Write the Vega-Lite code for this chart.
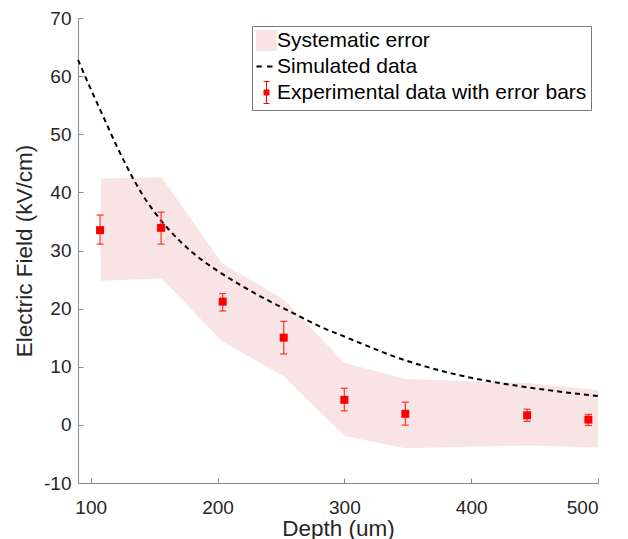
{
  "$schema": "https://vega.github.io/schema/vega-lite/v6.json",
  "width": 520,
  "height": 465,
  "autosize": {"type": "none"},
  "padding": {"left": 78, "top": 18, "right": 30, "bottom": 56},
  "background": "white",
  "config": {
    "view": {"stroke": null},
    "font": "Liberation Sans",
    "axis": {
      "grid": false,
      "domainColor": "#8c8c8c",
      "tickColor": "#8c8c8c",
      "tickSize": -5,
      "labelFontSize": 19,
      "labelColor": "#262626",
      "titleFontSize": 22.5,
      "titleFontWeight": "normal",
      "titleColor": "#262626",
      "labelFont": "Liberation Sans",
      "titleFont": "Liberation Sans",
      "labelExpr": "datum.value"
    }
  },
  "datasets": {
    "band": [
      {"depth": 108, "hi": 42.4, "lo": 24.8},
      {"depth": 156, "hi": 42.6, "lo": 25.2},
      {"depth": 203.5, "hi": 27.8, "lo": 14.4},
      {"depth": 252, "hi": 21.6, "lo": 8.4},
      {"depth": 300, "hi": 10.7, "lo": -1.9},
      {"depth": 348, "hi": 7.9, "lo": -4.0},
      {"depth": 444, "hi": 7.2, "lo": -3.55},
      {"depth": 500, "hi": 6.0, "lo": -3.9}
    ],
    "sim": [
      {"depth": 90, "field": 62.8},
      {"depth": 100, "field": 57.8},
      {"depth": 110, "field": 53.0},
      {"depth": 120, "field": 48.2},
      {"depth": 130, "field": 43.8},
      {"depth": 140, "field": 39.9},
      {"depth": 150, "field": 36.7},
      {"depth": 160, "field": 34.0},
      {"depth": 170, "field": 31.7},
      {"depth": 180, "field": 29.7},
      {"depth": 190, "field": 28.0},
      {"depth": 200, "field": 26.5},
      {"depth": 220, "field": 23.8},
      {"depth": 240, "field": 21.4},
      {"depth": 260, "field": 19.2},
      {"depth": 280, "field": 17.0},
      {"depth": 300, "field": 15.2},
      {"depth": 320, "field": 13.4},
      {"depth": 340, "field": 11.7},
      {"depth": 360, "field": 10.3},
      {"depth": 380, "field": 9.1},
      {"depth": 400, "field": 8.1},
      {"depth": 420, "field": 7.3},
      {"depth": 440, "field": 6.6},
      {"depth": 460, "field": 6.0},
      {"depth": 480, "field": 5.45},
      {"depth": 500, "field": 4.95}
    ],
    "exp": [
      {"depth": 107.4, "field": 33.5, "lo": 31.1, "hi": 36.1},
      {"depth": 155.5, "field": 33.9, "lo": 31.1, "hi": 36.6},
      {"depth": 204.1, "field": 21.2, "lo": 19.6, "hi": 22.6},
      {"depth": 252.2, "field": 15.0, "lo": 12.2, "hi": 17.8},
      {"depth": 300.0, "field": 4.3, "lo": 2.4, "hi": 6.3},
      {"depth": 348.1, "field": 1.9, "lo": -0.05, "hi": 3.9},
      {"depth": 444.1, "field": 1.65, "lo": 0.6, "hi": 2.7},
      {"depth": 492.4, "field": 0.9, "lo": -0.1, "hi": 1.8}
    ]
  },
  "layer": [
    {
      "data": {"name": "band"},
      "mark": {"type": "area", "opacity": 1},
      "encoding": {
        "x": {
          "field": "depth", "type": "quantitative",
          "scale": {"domain": [90, 500], "nice": false, "zero": false},
          "axis": {"values": [100, 200, 300, 400, 500], "title": "Depth (um)", "labelPadding": 20, "titlePadding": 0}
        },
        "y": {
          "field": "hi", "type": "quantitative",
          "scale": {"domain": [-10, 70], "nice": false, "zero": false},
          "axis": {"values": [-10, 0, 10, 20, 30, 40, 50, 60, 70], "title": "Electric Field (kV/cm)", "labelPadding": 12, "titlePadding": 7}
        },
        "y2": {"field": "lo"},
        "color": {
          "datum": "Systematic error",
          "type": "nominal",
          "scale": {
            "domain": ["Systematic error", "Simulated data", "Experimental data with error bars"],
            "range": ["#f9e4e5", "#000000", "#ff0000"]
          },
          "legend": {
            "orient": "none",
            "legendX": 174,
            "legendY": 8,
            "title": null,
            "direction": "vertical",
            "fillColor": "white",
            "strokeColor": "#7a7a7a",
            "padding": 4,
            "rowPadding": 2,
            "labelFontSize": 21,
            "labelFont": "Liberation Sans",
            "labelColor": "black",
            "labelLimit": 500,
            "labelOffset": 0,
            "symbolSize": 400,
            "symbolOpacity": 1,
            "symbolType": {"expr": "datum.value === 'Systematic error' ? 'M-1,-1H1V1H-1Z' : datum.value === 'Simulated data' ? 'M-1,0H-0.47M0.06,0H0.6' : 'M-0.3,-1.1H0.3M0,-1.1V1.1M-0.3,1.1H0.3M-0.25,-0.25H0.25V0.25H-0.25Z'"},
            "symbolStrokeWidth": {"expr": "datum.value === 'Simulated data' ? 2 : 1"},
            "symbolStrokeColor": {"expr": "datum.value === 'Systematic error' ? '#f9e4e5' : datum.value === 'Simulated data' ? '#000000' : '#ff3030'"}
          }
        }
      }
    },
    {
      "data": {"name": "sim"},
      "mark": {"type": "line", "strokeDash": [5, 4], "strokeWidth": 2, "interpolate": "monotone"},
      "encoding": {
        "x": {"field": "depth", "type": "quantitative"},
        "y": {"field": "field", "type": "quantitative"},
        "color": {"datum": "Simulated data", "type": "nominal"}
      }
    },
    {
      "data": {"name": "exp"},
      "mark": {"type": "rule", "color": "#ff3030", "strokeWidth": 1.2},
      "encoding": {
        "x": {"field": "depth", "type": "quantitative"},
        "y": {"field": "lo", "type": "quantitative"},
        "y2": {"field": "hi"}
      }
    },
    {
      "data": {"name": "exp"},
      "mark": {"type": "tick", "orient": "horizontal", "size": 7, "thickness": 1.2, "color": "#ff3030", "opacity": 1},
      "encoding": {
        "x": {"field": "depth", "type": "quantitative"},
        "y": {"field": "lo", "type": "quantitative"}
      }
    },
    {
      "data": {"name": "exp"},
      "mark": {"type": "tick", "orient": "horizontal", "size": 7, "thickness": 1.2, "color": "#ff3030", "opacity": 1},
      "encoding": {
        "x": {"field": "depth", "type": "quantitative"},
        "y": {"field": "hi", "type": "quantitative"}
      }
    },
    {
      "data": {"name": "exp"},
      "mark": {"type": "square", "size": 64, "filled": true, "opacity": 1},
      "encoding": {
        "x": {"field": "depth", "type": "quantitative"},
        "y": {"field": "field", "type": "quantitative"},
        "color": {"datum": "Experimental data with error bars", "type": "nominal"}
      }
    }
  ]
}
